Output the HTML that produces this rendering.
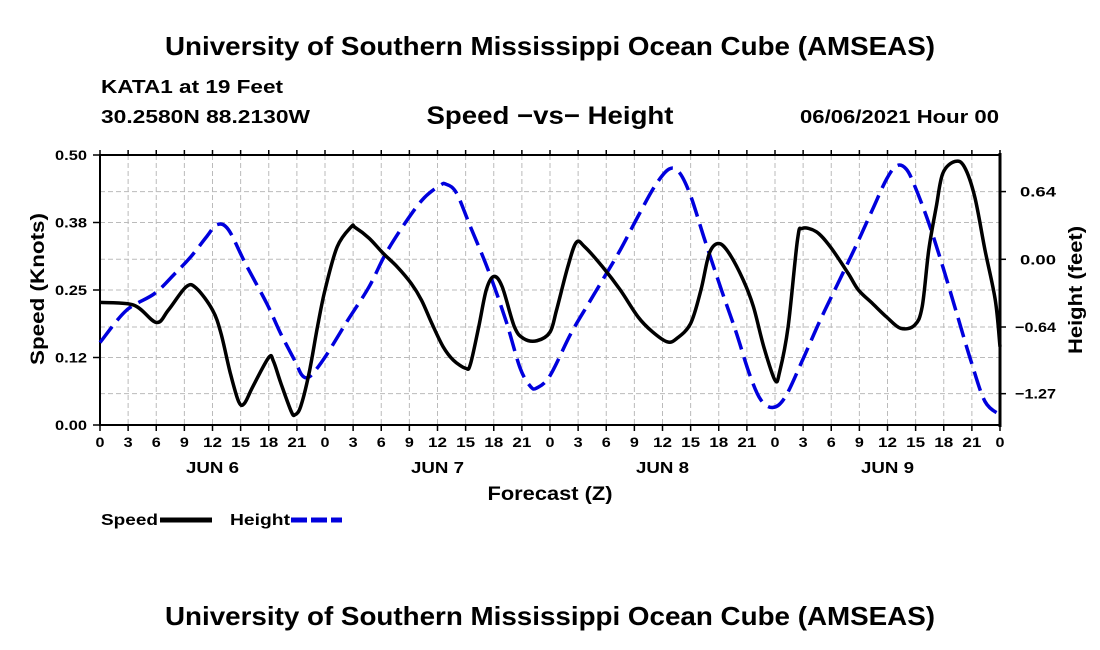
<!DOCTYPE html>
<html><head><meta charset="utf-8"><style>
body{margin:0;background:#fff;width:1100px;height:650px;overflow:hidden}
svg{display:block;font-family:"Liberation Sans",sans-serif;font-weight:bold}
</style></head><body>
<svg id="chart" width="1100" height="650">
<text x="550" y="55" text-anchor="middle" font-size="26" textLength="770" lengthAdjust="spacingAndGlyphs">University of Southern Mississippi Ocean Cube (AMSEAS)</text>
<text x="101" y="93" font-size="18" textLength="182" lengthAdjust="spacingAndGlyphs">KATA1 at 19 Feet</text>
<text x="101" y="123" font-size="18" textLength="209" lengthAdjust="spacingAndGlyphs">30.2580N  88.2130W</text>
<text x="550" y="124" text-anchor="middle" font-size="25" textLength="247" lengthAdjust="spacingAndGlyphs">Speed −vs− Height</text>
<text x="999" y="123" text-anchor="end" font-size="18" textLength="199" lengthAdjust="spacingAndGlyphs">06/06/2021 Hour 00</text>
<text x="550" y="625" text-anchor="middle" font-size="26" textLength="770" lengthAdjust="spacingAndGlyphs">University of Southern Mississippi Ocean Cube (AMSEAS)</text>
<text transform="translate(44,289) rotate(-90)" text-anchor="middle" font-size="19" textLength="152" lengthAdjust="spacingAndGlyphs">Speed (Knots)</text>
<text transform="translate(1082,290) rotate(-90)" text-anchor="middle" font-size="19" textLength="128" lengthAdjust="spacingAndGlyphs">Height (feet)</text>
<text x="550" y="500" text-anchor="middle" font-size="19" textLength="125" lengthAdjust="spacingAndGlyphs">Forecast (Z)</text>
<g>
<text x="101" y="525" font-size="16" textLength="57" lengthAdjust="spacingAndGlyphs">Speed</text>
<line x1="160" y1="520" x2="212" y2="520" stroke="#000" stroke-width="5"/>
<text x="230" y="525" font-size="16" textLength="60" lengthAdjust="spacingAndGlyphs">Height</text>
<line x1="291" y1="520" x2="342" y2="520" stroke="#0000dd" stroke-width="5" stroke-dasharray="16,4"/>
</g>
<g id="grid"></g><g id="axes"></g><g id="series"></g>
</svg>
<script>
const xTickLabels=["0","3","6","9","12","15","18","21","0","3","6","9","12","15","18","21","0","3","6","9","12","15","18","21","0","3","6","9","12","15","18","21","0"];
const dayLabels=["JUN 6","JUN 7","JUN 8","JUN 9"];
const leftTicks=[0,0.125,0.25,0.375,0.5];
const leftTickLabels=["0.00","0.12","0.25","0.38","0.50"];
const rightTicks=[0.64,0,-0.64,-1.27];
const rightTickLabels=["0.64","0.00","−0.64","−1.27"];
const speedHours=[0,3.6,6,7.3,9.2,10.3,12,12.9,13.9,14.8,15.4,16.3,18,18.5,19.3,20.4,20.8,21.4,22.3,23.2,24,25.3,26.8,27.2,28.7,30.2,31.7,33.2,34.3,35.4,36.6,37.7,39,39.5,40.4,41.2,42,42.9,44.2,45.2,46.6,48,48.7,49.9,50.8,51.7,53.6,55.5,57.4,58.9,60.5,61.5,63,64.1,65,66,67.1,68.6,69.7,70.8,72,72.5,73.4,74.4,74.9,76.4,77.9,79.8,80.9,82.4,83.9,85.4,86.9,87.7,88.4,89.2,89.9,91.2,92.2,93.3,94.4,95.5,96];
const speedValues=[0.227,0.222,0.19,0.213,0.256,0.253,0.213,0.17,0.096,0.043,0.04,0.071,0.125,0.118,0.077,0.025,0.019,0.034,0.096,0.182,0.25,0.33,0.367,0.366,0.346,0.318,0.293,0.262,0.231,0.188,0.145,0.12,0.105,0.112,0.182,0.25,0.275,0.256,0.182,0.16,0.156,0.172,0.213,0.293,0.338,0.33,0.293,0.25,0.2,0.173,0.154,0.16,0.188,0.25,0.318,0.336,0.318,0.269,0.219,0.145,0.083,0.099,0.182,0.343,0.364,0.358,0.33,0.281,0.25,0.225,0.2,0.179,0.185,0.219,0.324,0.404,0.466,0.488,0.478,0.423,0.324,0.231,0.145];
const heightHours=[0,2.8,5.8,8,9.7,11.4,12.5,13.7,15.5,17.8,19.3,20.8,21.5,22.1,22.8,24.2,26.4,28.7,30.5,32.8,34.6,36.3,36.9,38,39.5,41.4,43.3,44.8,45.9,46.6,48,50.2,52.1,53.6,55.5,57.4,59.2,60.7,61.8,63,64.5,66.3,67.8,69.3,70.5,71.8,73.1,74.9,76.8,78.7,80.6,82.4,83.9,85,86,86.9,88.4,89.9,91.4,92.9,94.4,96];
const heightValues=[-0.787,-0.484,-0.325,-0.134,0.025,0.217,0.328,0.28,-0.038,-0.42,-0.707,-0.962,-1.09,-1.12,-1.07,-0.898,-0.58,-0.26,0.057,0.376,0.583,0.70,0.71,0.63,0.31,-0.10,-0.58,-1.025,-1.2,-1.216,-1.1,-0.707,-0.42,-0.197,0.089,0.408,0.694,0.853,0.82,0.6,0.185,-0.293,-0.675,-1.09,-1.33,-1.40,-1.30,-0.96,-0.58,-0.23,0.12,0.47,0.758,0.885,0.853,0.694,0.344,-0.07,-0.516,-0.96,-1.344,-1.47];

const L=100,R=1000,T=155,B=425,NS="http://www.w3.org/2000/svg";
const xS=h=>L+h*(R-L)/96;
const yL=v=>B-v*(B-T)/0.5;
const yR=f=>259.3-f*105.8;
function mk(tag,attrs,parent,text){const e=document.createElementNS(NS,tag);for(const k in attrs)e.setAttribute(k,attrs[k]);if(text!==undefined)e.textContent=text;parent.appendChild(e);return e;}
const grid=document.getElementById('grid'),axes=document.getElementById('axes'),series=document.getElementById('series');
xTickLabels.forEach((lab,i)=>{const x=xS(i*3);
 if(i>0&&i<32){const g=mk('line',{x1:x,y1:T,x2:x,y2:B,stroke:'#bbb','stroke-width':1,'stroke-dasharray':'5,3'},grid);
 
 }
 const tk=mk('line',{x1:x,y1:B,x2:x,y2:B+6,stroke:'#000','stroke-width':1.5},axes);
 
 
 const tt=mk('line',{x1:x,y1:T,x2:x,y2:T-5,stroke:'#000','stroke-width':1.5},axes);
 
 
 const t=mk('text',{x:x,y:B+22,'text-anchor':'middle','font-size':14,textLength:lab.length>1?19:9,lengthAdjust:'spacingAndGlyphs'},axes,lab);
 
 });
dayLabels.forEach((d,i)=>{const t=mk('text',{x:xS(i*24+12),y:B+48,'text-anchor':'middle','font-size':16,textLength:53,lengthAdjust:'spacingAndGlyphs'},axes,d);
 
 });
leftTicks.forEach((v,i)=>{const y=yL(v);
 if(i>0&&i<4){const g=mk('line',{x1:L,y1:y,x2:R,y2:y,stroke:'#bbb','stroke-width':1,'stroke-dasharray':'5,3'},grid);
 
 }
 const tk=mk('line',{x1:L-7,y1:y,x2:L,y2:y,stroke:'#000','stroke-width':1.5},axes);
 
 
 const t=mk('text',{x:L-13,y:y+5,'text-anchor':'end','font-size':14,textLength:32,lengthAdjust:'spacingAndGlyphs'},axes,leftTickLabels[i]);
 
 });
rightTicks.forEach((f,i)=>{const y=yR(f);
 const g=mk('line',{x1:L,y1:y,x2:R,y2:y,stroke:'#bbb','stroke-width':1,'stroke-dasharray':'5,3'},grid);
 
 
 const tk=mk('line',{x1:R,y1:y,x2:R+6,y2:y,stroke:'#000','stroke-width':1.5},axes);
 
 
 const t=mk('text',{x:1056,y:y+5,'text-anchor':'end','font-size':14,textLength:rightTickLabels[i].length>4?41:36,lengthAdjust:'spacingAndGlyphs'},axes,rightTickLabels[i]);
 
 });
const fr=mk('path',{d:`M${L},${T}H${R}V${B}H${L}Z`,fill:'none',stroke:'#000','stroke-width':2},axes);


const ra=mk('line',{x1:R,y1:T-2,x2:R,y2:B+2,stroke:'#000','stroke-width':3},axes);


function smooth(pts){let d=`M${pts[0][0]},${pts[0][1]}`;for(let i=0;i<pts.length-1;i++){const p0=pts[Math.max(0,i-1)],p1=pts[i],p2=pts[i+1],p3=pts[Math.min(pts.length-1,i+2)];
 d+=`C${p1[0]+(p2[0]-p0[0])/6},${p1[1]+(p2[1]-p0[1])/6} ${p2[0]-(p3[0]-p1[0])/6},${p2[1]-(p3[1]-p1[1])/6} ${p2[0]},${p2[1]}`;}return d;}
const hp=heightHours.map((h,i)=>[xS(h),yR(heightValues[i])]);
const hl=mk('path',{d:smooth(hp),fill:'none',stroke:'#0000dd','stroke-width':3.5,'stroke-dasharray':'20,8'},series);


const sp=speedHours.map((h,i)=>[xS(h),yL(speedValues[i])]);
const sl=mk('path',{d:smooth(sp),fill:'none',stroke:'#000','stroke-width':3.5},series);


</script>
</body></html>
